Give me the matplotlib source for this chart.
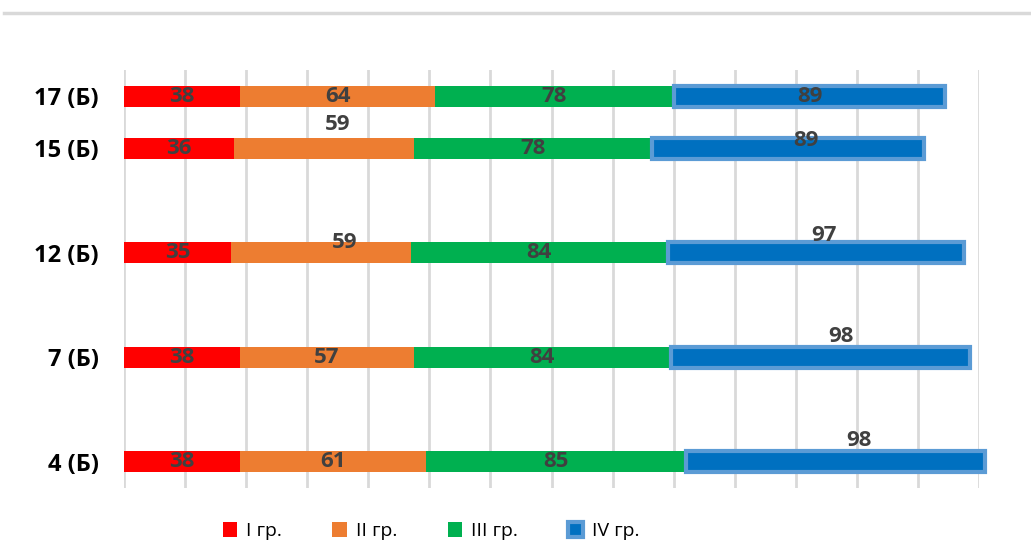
import matplotlib
matplotlib.use("Agg")
from matplotlib import pyplot as plt
from matplotlib.lines import Line2D
import numpy as np

# rows top to bottom, blanks are empty slots in the category axis
categories = ["17 (Б)", "15 (Б)", "", "12 (Б)", "", "7 (Б)", "", "4 (Б)"]
group_1 = [38, 36, 0, 35, 0, 38, 0, 38]
group_2 = [64, 59, 0, 59, 0, 57, 0, 61]
group_3 = [78, 78, 0, 84, 0, 84, 0, 85]
group_4 = [89, 89, 0, 97, 0, 98, 0, 98]
series_names = ["I гр.", "II гр.", "III гр.", "IV гр."]

colors = ["#FF0000", "#ED7D31", "#00B050", "#0070C0"]
label_color = "#404040"

# hand-placed label shifts in pixels (dx, dy), as in the source picture
label_shift = {
    (1, 1): (14, 24), (1, 3): (18, 8),
    (3, 1): (24, 10), (3, 3): (8, 17),
    (5, 3): (21, 21),
    (7, 3): (23, 21),
}

plt.rcParams['font.family'] = ['Open Sans', 'DejaVu Sans']

fig = plt.figure(figsize=(10.31, 5.51), dpi=100)
ax = fig.add_axes([124/1031, 63/551, 855/1031, 418/551])

y = np.arange(len(categories))
left = np.zeros(len(categories))
handles = []
for i, vals in enumerate([group_1, group_2, group_3, group_4]):
    vals = np.array(vals, dtype=float)
    keep = vals > 0
    if i == 3:
        bars = ax.barh(y[keep], vals[keep], left=left[keep], height=0.4,
                       color=colors[i], edgecolor="#5B9BD5", linewidth=3,
                       label=series_names[i], clip_on=False, zorder=3)
    else:
        bars = ax.barh(y[keep], vals[keep], left=left[keep], height=0.4,
                       color=colors[i], linewidth=0, label=series_names[i],
                       zorder=3)
    handles.append(bars)
    for j, v in enumerate(vals):
        if v == 0:
            continue
        dx, dy = label_shift.get((j, i), (0, 0))
        ax.annotate(f"{int(v)}", (left[j] + v / 2, y[j]),
                    xytext=(dx * 0.72, dy * 0.72), textcoords="offset points",
                    ha="center", va="center", fontsize=16, fontweight="bold",
                    color=label_color, zorder=5)
    left += vals

ax.set_xlim(0, 280)
ax.set_ylim(len(categories) - 0.5, -0.5)
ax.set_xticks(np.arange(0, 281, 20))
ax.set_xticklabels([])
ax.set_yticks(y)
ax.set_yticklabels(categories, fontsize=17, fontweight="bold", color="black")
ax.tick_params(length=0, pad=18)
ax.grid(axis="x", color="#D9D9D9", linewidth=2, zorder=0)
ax.set_axisbelow(True)
for s in ax.spines.values():
    s.set_visible(False)

fig.legend(handles=handles, labels=series_names, loc="center",
           bbox_to_anchor=(0.418, 0.036), ncol=4, frameon=False, fontsize=14,
           handlelength=0.75, handleheight=0.75, columnspacing=2.6,
           handletextpad=0.45)

fig.add_artist(Line2D([4/1031, 1], [1 - 13/551, 1 - 13/551],
                      color="#D9D9D9", linewidth=2.5))

fig.savefig("out.png", dpi=100)
